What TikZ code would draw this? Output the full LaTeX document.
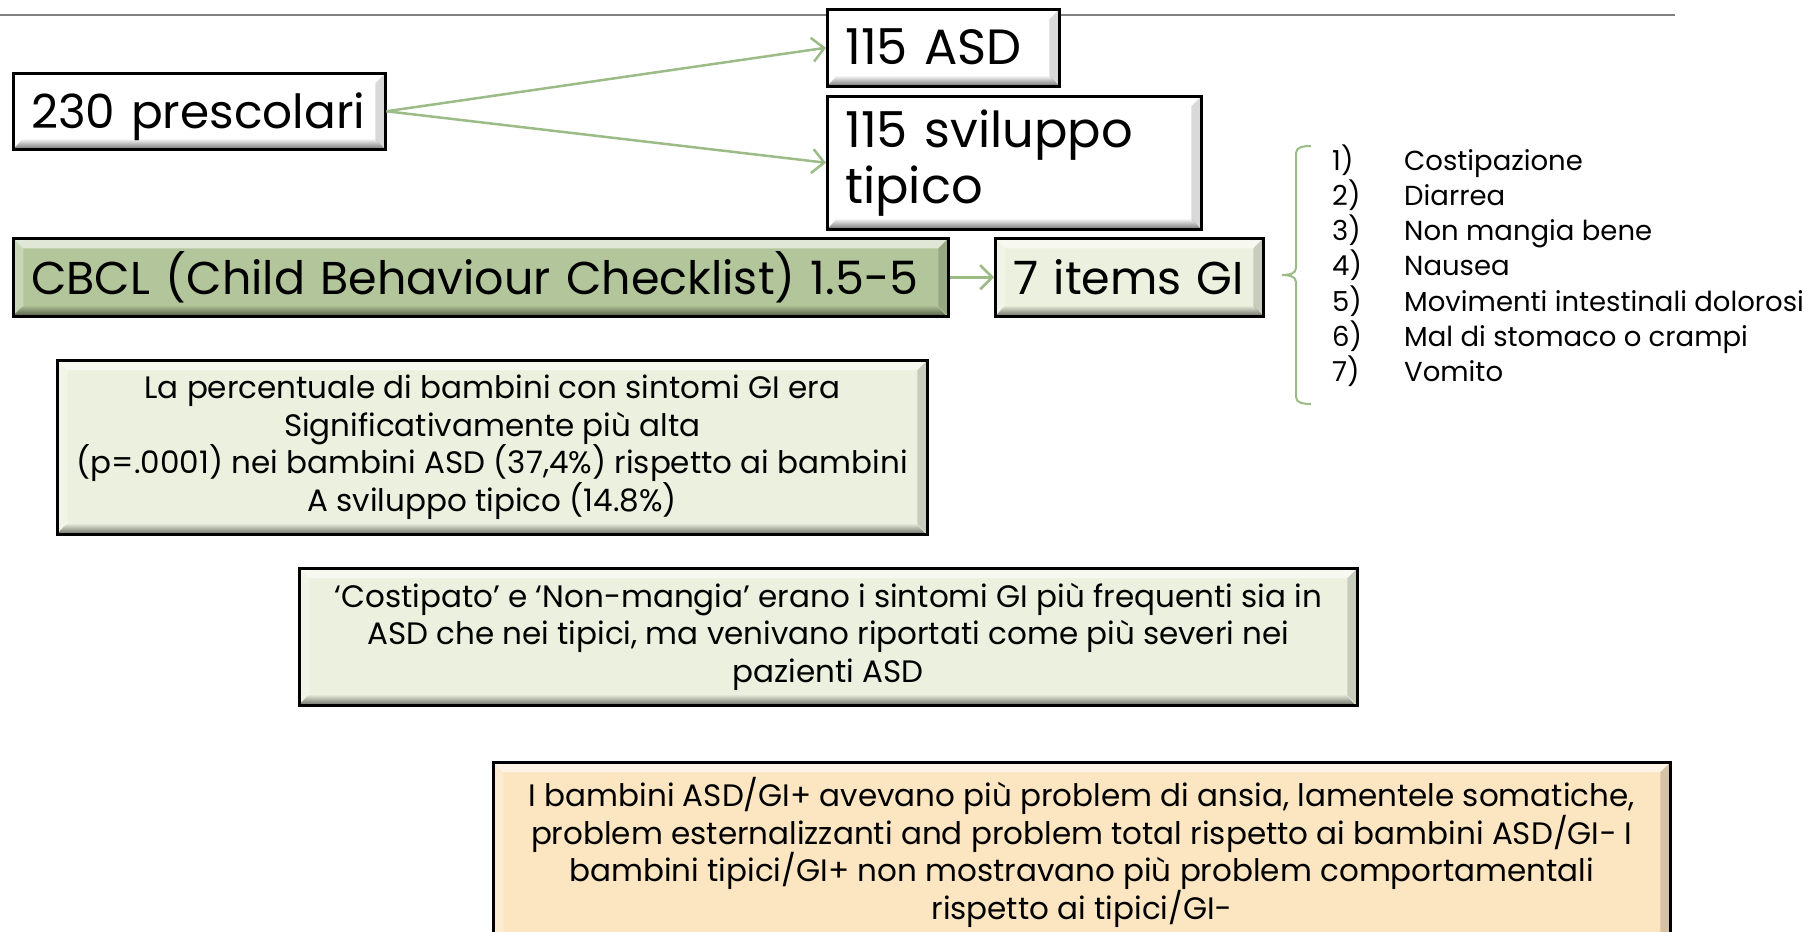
\documentclass[tikz,border=0pt]{standalone}
\usepackage{fontspec}
\setmainfont{Poppins}
\usetikzlibrary{arrows.meta,fadings}
\definecolor{arrowgreen}{HTML}{9BBB87}
\definecolor{cbclgreen}{HTML}{B3C59A}
\definecolor{lgreen}{HTML}{EBF1DE}
\definecolor{peach}{HTML}{FCE5C1}
\definecolor{topgray}{HTML}{808080}
\newcommand\fbig{\fontsize{46}{56}\selectfont}
\newcommand\fbigger{\fontsize{49.5}{56}\selectfont}
\newcommand\fpre{\fontsize{47}{56}\selectfont}
\newcommand\fmid{\fontsize{31}{37.5}\selectfont}
\newcommand\flist{\fontsize{27.5}{35}\selectfont}
\tikzset{
  bev/.style={path picture={
    \fill[white,opacity=0.6] (path picture bounding box.north west) -- (path picture bounding box.north east)
      -- ([shift={(-10pt,-10pt)}]path picture bounding box.north east) -- ([shift={(10pt,-10pt)}]path picture bounding box.north west) -- cycle;
    \fill[white,opacity=0.3] (path picture bounding box.north west) -- ([shift={(10pt,-10pt)}]path picture bounding box.north west)
      -- ([shift={(10pt,10pt)}]path picture bounding box.south west) -- (path picture bounding box.south west) -- cycle;
    \fill[black,opacity=0.15] (path picture bounding box.north east) -- ([shift={(-10pt,-10pt)}]path picture bounding box.north east)
      -- ([shift={(-10pt,10pt)}]path picture bounding box.south east) -- (path picture bounding box.south east) -- cycle;
    \fill[black,opacity=0.55,path fading=north] (path picture bounding box.south west) -- (path picture bounding box.south east)
      -- ([shift={(-10pt,11pt)}]path picture bounding box.south east) -- ([shift={(10pt,11pt)}]path picture bounding box.south west) -- cycle;
  }},
  box/.style={draw=black, line width=2.5pt, anchor=north west, inner xsep=18pt, inner ysep=0pt, bev},
  bigone/.style={align=left, text height=34pt, text depth=0pt},
  conn/.style={draw=arrowgreen, line width=2.5pt, -{Straight Barb[length=12pt,width=24pt]}},
  bracket/.style={draw=arrowgreen, line width=2pt},
  listtxt/.style={font=\flist, anchor=base west, inner sep=0pt},
}
\begin{document}
\begin{tikzpicture}[x=1pt,y=-1pt]
\useasboundingbox (0,0) rectangle (1816,932);
\draw[topgray, line width=2pt] (0,15) -- (1675,15);

\node[box, bigone, font=\fpre, fill=white, text width=336pt, minimum height=76pt] (pre) at (12,72) {\mbox{230 prescolari}};
\node[box, bigone, font=\fbigger, fill=white, text width=196pt, minimum height=77pt] (asd) at (826,8) {\mbox{115 ASD}};
\node[box, font=\fbigger, align=left, fill=white, text width=338pt, minimum height=133pt] (svil) at (826,95) {\mbox{115 sviluppo}\\tipico};
\node[box, bigone, font=\fbig, fill=cbclgreen, text width=899pt, minimum height=78pt] (cbcl) at (12,237) {\mbox{CBCL (Child Behaviour Checklist) 1.5-5}};
\node[box, bigone, font=\fbig, fill=lgreen, text width=232pt, minimum height=78pt] (gi) at (994,237) {\mbox{7 items GI}};

\draw[conn] (pre.east) -- (asd.west);
\draw[conn] (pre.east) -- (svil.west);
\draw[conn] (cbcl.east) -- (gi.west);

\draw[bracket] (1311,146) to[out=180,in=90] (1296,153) -- (1296,268) to[out=270,in=0] (1282,275);
\draw[bracket] (1311,404) to[out=180,in=270] (1296,397) -- (1296,282) to[out=90,in=0] (1282,275);

\foreach \i/\t in {1/Costipazione,2/Diarrea,3/Non mangia bene,4/Nausea,5/Movimenti intestinali dolorosi,6/Mal di stomaco o crampi,7/Vomito}{
  \node[listtxt] (n\i) at (1332,{170+35.3*(\i-1)}) {\i)};
  \node[listtxt] (t\i) at (1404,{170+35.3*(\i-1)}) {\t};
}

\node[box, fill=lgreen, font=\fmid, align=center, minimum width=870pt, minimum height=174pt] (g1) at (56,359)
  {La percentuale di bambini con sintomi GI era\\Significativamente più alta\\(p=.0001) nei bambini ASD (37,4\%) rispetto ai bambini\\A sviluppo tipico (14.8\%)};
\node[box, fill=lgreen, font=\fmid, align=center, minimum width=1058pt, minimum height=137pt] (g2) at (298,567)
  {‘Costipato’ e ‘Non-mangia’ erano i sintomi GI più frequenti sia in\\ASD che nei tipici, ma venivano riportati come più severi nei\\pazienti ASD};
\node[box, fill=peach, font=\fmid, align=center, minimum width=1177pt, minimum height=180pt] (o3) at (492,761)
  {I bambini ASD/GI+ avevano più problem di ansia, lamentele somatiche,\\problem esternalizzanti and problem total rispetto ai bambini ASD/GI− I\\bambini tipici/GI+ non mostravano più problem comportamentali\\rispetto ai tipici/GI−};
\end{tikzpicture}
\end{document}
